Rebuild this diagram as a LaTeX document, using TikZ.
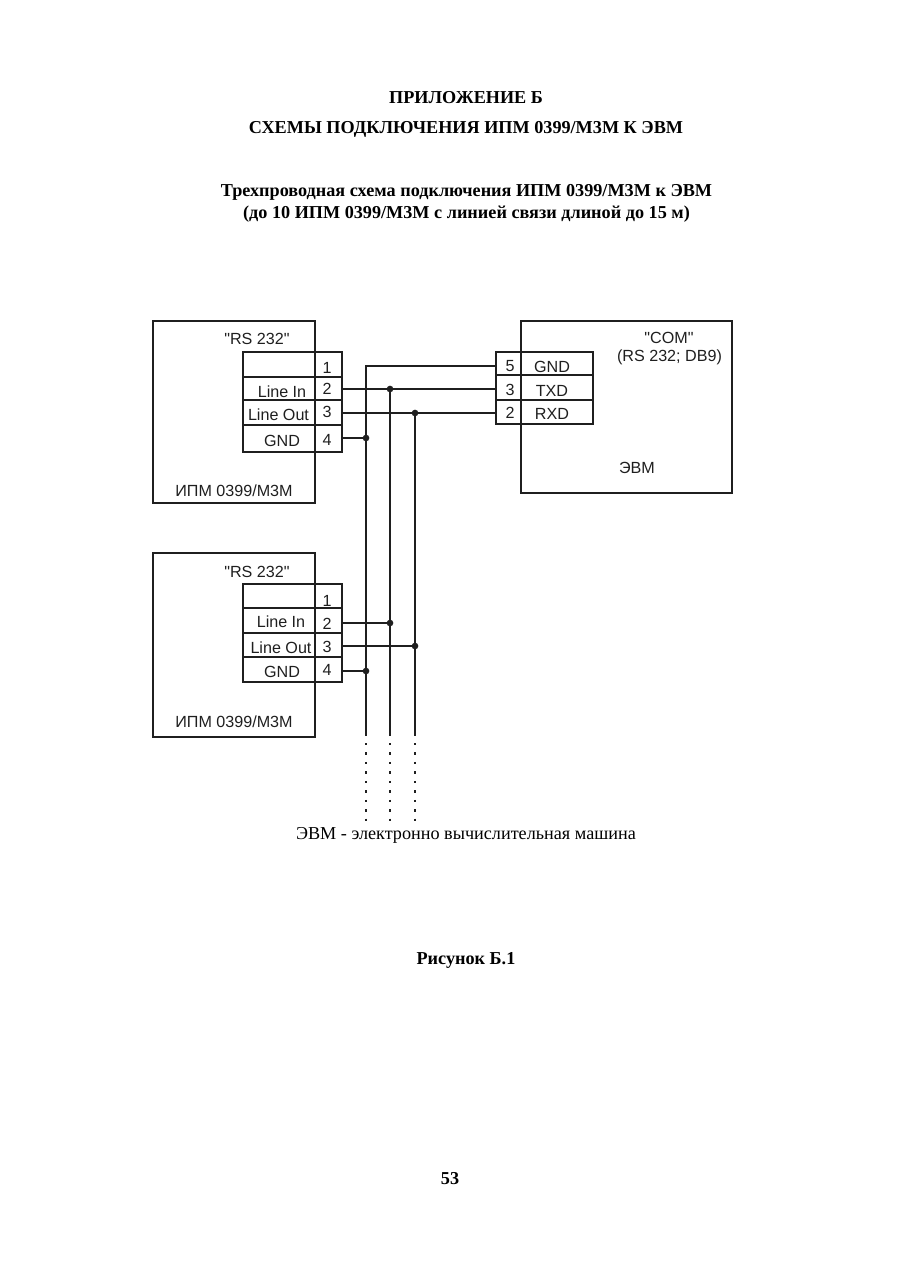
\documentclass[tikz,border=0pt]{standalone}
\usepackage{fontspec}
\setmainfont{Liberation Serif}
\newfontfamily\schemefont{Liberation Sans}
\definecolor{inkline}{gray}{0.12}

\begin{document}
\begin{tikzpicture}[x=0.75pt, y=-0.75pt,
    block/.style={draw=inkline, rectangle, anchor=north west, inner sep=0pt, outer sep=0pt, line width=1.3pt},
    namecell/.style={block, minimum width=54pt},
    pincell/.style={block, minimum width=20.25pt},
    scheme/.style={inner sep=0pt, text=inkline, font=\schemefont\fontsize{12.1}{14}\selectfont},
    body/.style={inner sep=0pt, text=black, font=\fontsize{13.64}{16}\selectfont},
    head/.style={body, font=\bfseries\fontsize{13.64}{16}\selectfont},
    wire/.style={draw=inkline, line width=1.2pt},
    tail/.style={draw=inkline, line width=1.2pt, dash pattern=on 1.8pt off 5.3pt},
    joint/.style={circle, fill=inkline, inner sep=0pt, outer sep=0pt, minimum size=5pt}]
  \useasboundingbox (0,0) rectangle (900,1274);

  % page text
  \node (title) [head] at (466,98) {ПРИЛОЖЕНИЕ Б};
  \node (subtitle) [head] at (466,129) {СХЕМЫ ПОДКЛЮЧЕНИЯ ИПМ 0399/М3М К ЭВМ};
  \node (capa) [head] at (466.5,192) {Трехпроводная схема подключения ИПМ 0399/М3М к ЭВМ};
  \node (capb) [head] at (466.5,214) {(до 10 ИПМ 0399/М3М с линией связи длиной до 15 м)};
  \node (note) [body] at (466,835.5) {ЭВМ - электронно вычислительная машина};
  \node (figname) [head] at (466,960.5) {Рисунок Б.1};
  \node (pagenum) [head] at (450,1178.5) {53};

  % upper device
  \node (ipma) [block, minimum width=121.5pt, minimum height=136.5pt] at (153,321) {};
  \node (ipmaname) [scheme] at (234,491) {ИПМ 0399/М3М};
  \node (ipmaport) [scheme] at (257,339) {"RS 232"};
  \node (aname1) [namecell, minimum height=18.75pt] at (243,352) {};
  \node (aname2) [namecell, minimum height=17.25pt] at (243,377) {};
  \node (aname3) [namecell, minimum height=18.75pt] at (243,400) {};
  \node (aname4) [namecell, minimum height=20.25pt] at (243,425) {};
  \node (apin1) [pincell, minimum height=18.75pt] at (315,352) {};
  \node (apin2) [pincell, minimum height=17.25pt] at (315,377) {};
  \node (apin3) [pincell, minimum height=18.75pt] at (315,400) {};
  \node (apin4) [pincell, minimum height=20.25pt] at (315,425) {};
  \node (atext2) [scheme] at (282,392) {Line In};
  \node (atext3) [scheme] at (278.5,415) {Line Out};
  \node (atext4) [scheme] at (282,441) {GND};
  \node (anum1) [scheme] at (327,368) {1};
  \node (anum2) [scheme] at (327,389) {2};
  \node (anum3) [scheme] at (327,412) {3};
  \node (anum4) [scheme] at (327,440) {4};

  % lower device
  \node (ipmb) [block, minimum width=121.5pt, minimum height=138pt] at (153,553) {};
  \node (ipmbname) [scheme] at (234,722) {ИПМ 0399/М3М};
  \node (ipmbport) [scheme] at (257,572) {"RS 232"};
  \node (bname1) [namecell, minimum height=18pt] at (243,584) {};
  \node (bname2) [namecell, minimum height=18.75pt] at (243,608) {};
  \node (bname3) [namecell, minimum height=18pt] at (243,633) {};
  \node (bname4) [namecell, minimum height=18.75pt] at (243,657) {};
  \node (bpin1) [pincell, minimum height=18pt] at (315,584) {};
  \node (bpin2) [pincell, minimum height=18.75pt] at (315,608) {};
  \node (bpin3) [pincell, minimum height=18pt] at (315,633) {};
  \node (bpin4) [pincell, minimum height=18.75pt] at (315,657) {};
  \node (btext2) [scheme] at (281,622) {Line In};
  \node (btext3) [scheme] at (281,648) {Line Out};
  \node (btext4) [scheme] at (282,672) {GND};
  \node (bnum1) [scheme] at (327,601) {1};
  \node (bnum2) [scheme] at (327,624) {2};
  \node (bnum3) [scheme] at (327,647) {3};
  \node (bnum4) [scheme] at (327,670) {4};

  % computer
  \node (evm) [block, minimum width=158.25pt, minimum height=129pt] at (521,321) {};
  \node (evmname) [scheme] at (637,468) {ЭВМ};
  \node (evmport) [scheme] at (669,338) {"COM"};
  \node (evmbus) [scheme] at (669.5,357) {(RS 232; DB9)};
  \node (epin5) [block, minimum width=18.75pt, minimum height=17.25pt] at (496,352) {};
  \node (epin3) [block, minimum width=18.75pt, minimum height=18.75pt] at (496,375) {};
  \node (epin2) [block, minimum width=18.75pt, minimum height=18pt] at (496,400) {};
  \node (ename5) [block, minimum width=54pt, minimum height=17.25pt] at (521,352) {};
  \node (ename3) [block, minimum width=54pt, minimum height=18.75pt] at (521,375) {};
  \node (ename2) [block, minimum width=54pt, minimum height=18pt] at (521,400) {};
  \node (enum5) [scheme] at (510,366) {5};
  \node (enum3) [scheme] at (510,390) {3};
  \node (enum2) [scheme] at (510,413) {2};
  \node (etext5) [scheme] at (552,367) {GND};
  \node (etext3) [scheme] at (552,391) {TXD};
  \node (etext2) [scheme] at (552,414) {RXD};

  % bus points
  \coordinate (gndtop) at (366,366);
  \node (ajoint2) [joint] at (390,389) {};
  \node (ajoint3) [joint] at (415,413) {};
  \node (ajoint4) [joint] at (366,438) {};
  \node (bjoint2) [joint] at (390,623) {};
  \node (bjoint3) [joint] at (415,646) {};
  \node (bjoint4) [joint] at (366,671) {};
  \coordinate (gndend) at (366,736);
  \coordinate (txdend) at (390,736);
  \coordinate (rxdend) at (415,736);
  \coordinate (gnddot) at (366,743);
  \coordinate (txddot) at (390,743);
  \coordinate (rxddot) at (415,743);
  \coordinate (gndfar) at (366,821);
  \coordinate (txdfar) at (390,821);
  \coordinate (rxdfar) at (415,821);

  \draw[wire] (epin5.west |- gndtop) -- (gndtop) -- (gndend);
  \draw[wire] (ajoint2) -- (txdend);
  \draw[wire] (ajoint3) -- (rxdend);
  \draw[wire] (apin2.east |- ajoint2) -- (epin3.west |- ajoint2);
  \draw[wire] (apin3.east |- ajoint3) -- (epin2.west |- ajoint3);
  \draw[wire] (apin4.east |- ajoint4) -- (ajoint4);
  \draw[wire] (bpin2.east |- bjoint2) -- (bjoint2);
  \draw[wire] (bpin3.east |- bjoint3) -- (bjoint3);
  \draw[wire] (bpin4.east |- bjoint4) -- (bjoint4);
  \draw[tail] (gnddot) -- (gndfar);
  \draw[tail] (txddot) -- (txdfar);
  \draw[tail] (rxddot) -- (rxdfar);
\end{tikzpicture}
\end{document}
